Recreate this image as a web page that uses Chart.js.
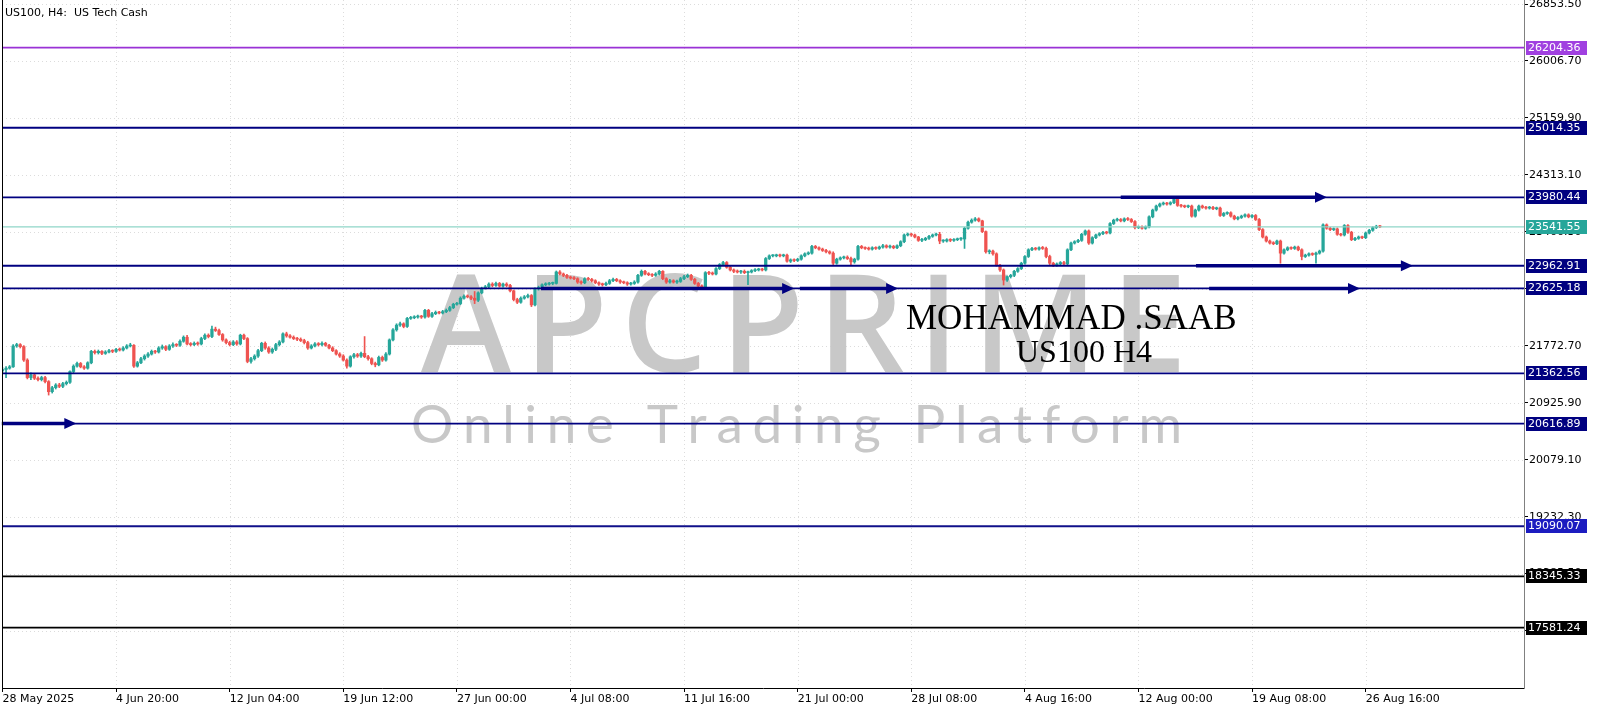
<!DOCTYPE html>
<html>
<head>
<meta charset="utf-8">
<script src="https://cdn.jsdelivr.net/npm/chart.js@4.4.1/dist/chart.umd.min.js"></script>
<style>
  html, body { margin: 0; padding: 0; background: #fff; }
  #wrap { width: 1600px; height: 711px; position: relative; }
</style>
</head>
<body>
<div id="wrap"><canvas id="chart"></canvas></div>
<script>
// US100 H4 candles, 28 May 2025 12:00 .. 27 Aug 2025 08:00
const opens = [
  21400,21420,21440,21460,21770,21790,21760,21560,21300,21340,
  21290,21270,21300,21240,21090,21150,21190,21170,21210,21230,
  21390,21470,21510,21460,21440,21520,21690,21670,21690,21660,
  21680,21700,21690,21720,21710,21740,21770,21780,21470,21520,
  21580,21620,21650,21690,21680,21740,21760,21720,21770,21790,
  21780,21840,21900,21800,21790,21810,21800,21880,21930,21910,
  22020,22000,21940,21860,21820,21790,21830,21800,21930,21880,
  21540,21580,21620,21700,21810,21740,21680,21720,21790,21830,
  21950,21920,21900,21880,21870,21850,21820,21740,21770,21800,
  21790,21810,21780,21740,21700,21650,21620,21560,21470,21610,
  21640,21620,21660,21610,21580,21510,21490,21600,21560,21650,
  21860,22010,22080,22100,22060,22180,22190,22200,22210,22200,
  22300,22210,22250,22270,22260,22280,22300,22340,22390,22400,
  22480,22510,22500,22480,22450,22560,22630,22650,22690,22670,
  22700,22660,22690,22670,22590,22460,22420,22480,22500,22520,
  22380,22620,22640,22680,22690,22700,22700,22870,22840,22820,
  22790,22780,22770,22720,22710,22770,22760,22740,22710,22690,
  22680,22700,22740,22760,22740,22720,22710,22690,22700,22720,
  22820,22880,22840,22830,22820,22840,22880,22770,22720,22740,
  22720,22730,22770,22800,22820,22760,22700,22660,22650,22860,
  22850,22840,22920,22980,23010,22940,22900,22880,22870,22880,
  22860,22870,22890,22900,22910,22900,23070,23110,23110,23120,
  23110,23120,23030,23050,23040,23060,23110,23140,23150,23250,
  23230,23210,23190,23170,23150,23000,23060,23080,23090,23070,
  23020,23060,23250,23230,23220,23210,23230,23220,23240,23260,
  23240,23250,23230,23260,23320,23420,23430,23420,23390,23340,
  23350,23370,23400,23420,23430,23330,23330,23350,23340,23350,
  23360,23360,23520,23610,23640,23660,23630,23470,23170,23180,
  23140,22970,22900,22750,22800,22820,22880,22920,23000,23100,
  23200,23220,23210,23230,23220,23100,23000,22970,22990,23010,
  22990,23200,23300,23320,23340,23430,23480,23300,23380,23420,
  23440,23460,23450,23590,23640,23650,23630,23660,23650,23620,
  23530,23540,23520,23540,23690,23790,23850,23880,23890,23880,
  23900,23950,23860,23850,23840,23850,23700,23790,23850,23830,
  23820,23830,23810,23820,23710,23740,23750,23700,23660,23680,
  23700,23720,23690,23710,23650,23500,23390,23330,23300,23290,
  23330,23150,23200,23230,23220,23240,23200,23100,23120,23140,
  23130,23150,23180,23570,23520,23500,23510,23430,23420,23560,
  23460,23350,23370,23390,23380,23450,23490,23530,23550
];
const highs = [
  21450,21465,21480,21790,21810,21805,21775,21580,21370,21360,
  21310,21320,21320,21255,21170,21210,21215,21230,21250,21400,
  21490,21530,21525,21480,21535,21705,21710,21710,21700,21700,
  21720,21715,21735,21740,21760,21790,21810,21790,21540,21600,
  21640,21670,21710,21705,21760,21785,21775,21790,21815,21805,
  21860,21920,21930,21820,21830,21830,21900,21950,21950,22065,
  22050,22020,21955,21875,21840,21850,21850,21945,21945,21895,
  21600,21640,21720,21825,21830,21760,21740,21810,21850,21965,
  21975,21940,21920,21900,21890,21870,21840,21790,21820,21820,
  21830,21825,21795,21760,21715,21670,21640,21580,21625,21660,
  21660,21680,21910,21630,21595,21530,21620,21620,21670,21875,
  22030,22100,22125,22115,22195,22210,22220,22230,22225,22315,
  22315,22270,22290,22285,22300,22320,22360,22405,22420,22500,
  22530,22530,22520,22580,22575,22645,22670,22710,22710,22720,
  22715,22705,22710,22685,22600,22480,22500,22520,22540,22535,
  22635,22660,22695,22710,22715,22720,22885,22890,22855,22835,
  22810,22800,22785,22740,22785,22790,22775,22755,22725,22705,
  22720,22760,22780,22775,22755,22735,22725,22715,22740,22835,
  22900,22895,22860,22845,22860,22895,22890,22785,22760,22755,
  22750,22790,22820,22840,22835,22775,22715,22680,22875,22880,
  22870,22935,22995,23030,23025,22955,22915,22900,22895,22900,
  22885,22905,22920,22925,22925,23085,23125,23130,23135,23135,
  23135,23135,23065,23065,23075,23125,23155,23170,23265,23265,
  23245,23225,23205,23185,23170,23075,23095,23105,23110,23090,
  23075,23265,23265,23245,23240,23245,23245,23255,23280,23275,
  23270,23265,23275,23335,23435,23450,23445,23435,23400,23370,
  23385,23415,23435,23450,23460,23350,23365,23365,23365,23375,
  23380,23535,23625,23660,23680,23675,23640,23480,23200,23195,
  23155,22985,22915,22810,22835,22895,22935,23015,23115,23215,
  23235,23235,23245,23250,23240,23120,23015,23005,23025,23030,
  23215,23315,23335,23355,23445,23495,23495,23395,23435,23455,
  23475,23475,23605,23655,23670,23665,23675,23680,23665,23635,
  23555,23555,23555,23705,23805,23865,23895,23910,23905,23915,
  23990,23965,23875,23865,23865,23865,23805,23865,23865,23845,
  23845,23845,23835,23835,23755,23765,23765,23715,23695,23715,
  23735,23735,23725,23725,23665,23515,23405,23345,23320,23345,
  23345,23215,23245,23245,23255,23255,23215,23135,23155,23155,
  23165,23195,23585,23585,23535,23525,23525,23445,23575,23575,
  23475,23385,23405,23405,23465,23505,23545,23565,23565
];
const lows = [
  21380,21300,21425,21450,21750,21740,21540,21280,21270,21270,
  21250,21250,21220,21040,21070,21130,21150,21150,21190,21215,
  21370,21455,21445,21420,21425,21505,21650,21650,21640,21645,
  21665,21670,21675,21695,21695,21725,21755,21450,21455,21505,
  21560,21600,21635,21660,21665,21720,21700,21705,21750,21760,
  21765,21825,21785,21770,21775,21780,21785,21865,21890,21895,
  21985,21925,21840,21800,21770,21775,21780,21785,21865,21520,
  21515,21560,21600,21685,21720,21660,21660,21700,21770,21815,
  21900,21885,21865,21850,21835,21800,21720,21725,21755,21770,
  21770,21765,21725,21685,21635,21600,21545,21440,21455,21590,
  21600,21600,21595,21560,21490,21460,21475,21540,21545,21635,
  21845,21990,22060,22040,22045,22165,22175,22185,22180,22185,
  22195,22195,22235,22245,22245,22265,22285,22325,22375,22385,
  22465,22485,22460,22400,22430,22545,22615,22635,22650,22655,
  22645,22645,22650,22575,22440,22400,22405,22465,22485,22355,
  22365,22600,22625,22665,22675,22680,22690,22825,22800,22775,
  22765,22755,22700,22690,22695,22745,22720,22695,22670,22660,
  22665,22685,22725,22725,22700,22695,22670,22675,22685,22705,
  22805,22825,22815,22800,22805,22825,22755,22700,22705,22705,
  22700,22715,22755,22785,22745,22685,22640,22630,22635,22830,
  22825,22825,22905,22965,22925,22885,22860,22855,22850,22845,
  22680,22855,22875,22885,22885,22885,23055,23095,23095,23095,
  23095,23015,23010,23025,23025,23045,23095,23125,23135,23215,
  23195,23175,23155,23135,22980,22985,23045,23065,23055,22980,
  23000,23045,23215,23205,23195,23195,23205,23205,23225,23225,
  23225,23215,23215,23245,23305,23405,23400,23375,23325,23320,
  23335,23355,23385,23405,23290,23310,23315,23320,23325,23335,
  23340,23220,23505,23595,23625,23615,23455,23150,23140,23120,
  22955,22880,22676,22730,22780,22800,22865,22905,22985,23085,
  23185,23195,23195,23205,23080,22980,22950,22955,22975,22970,
  22975,23185,23285,23305,23325,23415,23280,23285,23365,23405,
  23425,23435,23435,23575,23625,23615,23615,23635,23605,23510,
  23515,23505,23505,23525,23675,23775,23835,23865,23865,23865,
  23885,23845,23835,23825,23825,23685,23685,23775,23815,23805,
  23805,23795,23795,23695,23695,23725,23685,23645,23645,23665,
  23685,23675,23675,23635,23485,23375,23315,23285,23275,23275,
  23000,23135,23185,23205,23205,23185,23050,23085,23105,23115,
  23000,23135,23165,23505,23485,23485,23415,23405,23405,23445,
  23335,23335,23355,23365,23365,23435,23475,23515,23530
];
const closes = [
  21420,21440,21460,21770,21790,21760,21560,21300,21340,21290,
  21270,21300,21240,21090,21150,21190,21170,21210,21230,21390,
  21470,21510,21460,21440,21520,21690,21670,21690,21660,21680,
  21700,21690,21720,21710,21740,21770,21780,21470,21520,21580,
  21620,21650,21690,21680,21740,21760,21720,21770,21790,21780,
  21840,21900,21800,21790,21810,21800,21880,21930,21910,22020,
  22000,21940,21860,21820,21790,21830,21800,21930,21880,21540,
  21580,21620,21700,21810,21740,21680,21720,21790,21830,21950,
  21920,21900,21880,21870,21850,21820,21740,21770,21800,21790,
  21810,21780,21740,21700,21650,21620,21560,21470,21610,21640,
  21620,21660,21610,21580,21510,21490,21600,21560,21650,21860,
  22010,22080,22100,22060,22180,22190,22200,22210,22200,22300,
  22210,22250,22270,22260,22280,22300,22340,22390,22400,22480,
  22510,22500,22480,22450,22560,22630,22650,22690,22670,22700,
  22660,22690,22670,22590,22460,22420,22480,22500,22520,22380,
  22620,22640,22680,22690,22700,22700,22870,22840,22820,22790,
  22780,22770,22720,22710,22770,22760,22740,22710,22690,22680,
  22700,22740,22760,22740,22720,22710,22690,22700,22720,22820,
  22880,22840,22830,22820,22840,22880,22770,22720,22740,22720,
  22730,22770,22800,22820,22760,22700,22660,22650,22860,22850,
  22840,22920,22980,23010,22940,22900,22880,22870,22880,22860,
  22870,22890,22900,22910,22900,23070,23110,23110,23120,23110,
  23120,23030,23050,23040,23060,23110,23140,23150,23250,23230,
  23210,23190,23170,23150,23000,23060,23080,23090,23070,23020,
  23060,23250,23230,23220,23210,23230,23220,23240,23260,23240,
  23250,23230,23260,23320,23420,23430,23420,23390,23340,23350,
  23370,23400,23420,23430,23330,23330,23350,23340,23350,23360,
  23360,23520,23610,23640,23660,23630,23470,23170,23180,23140,
  22970,22900,22750,22800,22820,22880,22920,23000,23100,23200,
  23220,23210,23230,23220,23100,23000,22970,22990,23010,22990,
  23200,23300,23320,23340,23430,23480,23300,23380,23420,23440,
  23460,23450,23590,23640,23650,23630,23660,23650,23620,23530,
  23540,23520,23540,23690,23790,23850,23880,23890,23880,23900,
  23950,23860,23850,23840,23850,23700,23790,23850,23830,23820,
  23830,23810,23820,23710,23740,23750,23700,23660,23680,23700,
  23720,23690,23710,23650,23500,23390,23330,23300,23290,23330,
  23150,23200,23230,23220,23240,23200,23100,23120,23140,23130,
  23150,23180,23570,23520,23500,23510,23430,23420,23560,23460,
  23350,23370,23390,23380,23450,23490,23530,23550,23541.55
];

// time axis: bar index of each label and its text
const xTickIdx = [0, 32, 64, 96, 128, 160, 192, 224, 256, 288, 320, 352, 384];
const xTickLabels = ['28 May 2025', '4 Jun 20:00', '12 Jun 04:00', '19 Jun 12:00', '27 Jun 00:00',
  '4 Jul 08:00', '11 Jul 16:00', '21 Jul 00:00', '28 Jul 08:00', '4 Aug 16:00',
  '12 Aug 00:00', '19 Aug 08:00', '26 Aug 16:00'];
const yTicks = [26853.50, 26006.70, 25159.90, 24313.10, 23466.30, 22619.50, 21772.70,
  20925.90, 20079.10, 19232.30, 18385.50, 17538.70];

// horizontal levels
const levelValues = [26204.36, 25014.35, 23980.44, 23541.55, 22962.91, 22625.18, 21362.56, 20616.89, 19090.07, 18345.33, 17581.24];
const levelLine  = ['#9a32d6', '#000080', '#000080', '#8fd6c8', '#000080', '#000080', '#000080', '#000080', '#10108a', '#000000', '#000000'];
const levelBox   = ['#a040e0', '#000080', '#000080', '#26a69a', '#000080', '#000080', '#000080', '#000080', '#1c1cc0', '#000000', '#000000'];

// arrows: price level, from bar, to bar
const arrowLevel = [23980.44, 22962.91, 22625.18, 22625.18, 22625.18, 20616.89];
const arrowFrom  = [315, 336.2, 151.7, 224.6, 339.9, -0.2];
const arrowTo    = [373.1, 397.3, 223.0, 252.3, 382.4, 20.8];

const UP = '#26a69a', DOWN = '#ef5350';
const candleColor = (ctx) => closes[ctx.dataIndex] >= opens[ctx.dataIndex] ? UP : DOWN;

const bodies = closes.map((c, i) => ({ x: i, y: [opens[i], c] }));
const wicks = highs.map((h, i) => ({ x: i, y: [lows[i], h] }));

function spacedText(ctx, text, x0, x1, y) {
  const widths = [...text].map(ch => ctx.measureText(ch).width);
  const total = widths.reduce((a, b) => a + b, 0);
  const gap = (x1 - x0 - total) / (text.length - 1);
  let x = x0;
  [...text].forEach((ch, k) => { ctx.fillText(ch, x, y); x += widths[k] + gap; });
}

const decor = {
  id: 'decor',
  beforeDatasetsDraw(chart) {
    const { ctx, chartArea: a, scales: { x, y } } = chart;
    ctx.save();
    // dotted grid
    ctx.strokeStyle = '#dcdcdc';
    ctx.lineWidth = 1;
    ctx.setLineDash([1, 3]);
    xTickIdx.forEach(v => {
      const px = Math.round(x.getPixelForValue(v)) + 0.5;
      ctx.beginPath(); ctx.moveTo(px, a.top); ctx.lineTo(px, a.bottom); ctx.stroke();
    });
    yTicks.forEach(v => {
      const py = Math.round(y.getPixelForValue(v)) + 0.5;
      ctx.beginPath(); ctx.moveTo(a.left, py); ctx.lineTo(a.right, py); ctx.stroke();
    });
    ctx.setLineDash([]);
    // watermark
    ctx.fillStyle = '#c8c8c8';
    ctx.textBaseline = 'alphabetic';
    ctx.font = '600 136px "Open Sans", Lato, sans-serif';
    spacedText(ctx, 'APCPRIME', 421, 1187, 372);
    ctx.font = '400 53px Lato, "Open Sans", sans-serif';
    spacedText(ctx, 'Online Trading Platform', 411, 1182, 443);
    ctx.restore();
  },
  afterDatasetsDraw(chart) {
    const { ctx, chartArea: a, scales: { x, y } } = chart;
    ctx.save();
    levelValues.forEach((v, k) => {
      const py = y.getPixelForValue(v);
      ctx.strokeStyle = levelLine[k];
      ctx.lineWidth = k === 3 ? 1.2 : 1.8;
      ctx.beginPath(); ctx.moveTo(a.left, py); ctx.lineTo(a.right, py); ctx.stroke();
    });
    ctx.strokeStyle = '#000080';
    ctx.fillStyle = '#000080';
    arrowLevel.forEach((v, k) => {
      const py = y.getPixelForValue(v);
      const x0 = x.getPixelForValue(arrowFrom[k]);
      const x1 = x.getPixelForValue(arrowTo[k]);
      ctx.lineWidth = 3.6;
      ctx.beginPath(); ctx.moveTo(x0, py); ctx.lineTo(x1 - 10, py); ctx.stroke();
      ctx.beginPath();
      ctx.moveTo(x1, py); ctx.lineTo(x1 - 12, py - 5.5); ctx.lineTo(x1 - 12, py + 5.5);
      ctx.closePath(); ctx.fill();
    });
    // author stamp
    ctx.fillStyle = '#000';
    ctx.textBaseline = 'alphabetic';
    ctx.textAlign = 'left';
    ctx.font = '35px "Liberation Serif", "Times New Roman", serif';
    ctx.fillText('MOHAMMAD .SAAB', 906, 329);
    ctx.font = '32px "Liberation Serif", "Times New Roman", serif';
    ctx.fillText('US100 H4', 1016, 362);
    // frame left edge
    ctx.strokeStyle = '#000';
    ctx.lineWidth = 1;
    ctx.beginPath(); ctx.moveTo(a.left + 0.5, a.top); ctx.lineTo(a.left + 0.5, a.bottom); ctx.stroke();
    ctx.restore();
  },
  afterDraw(chart) {
    const { ctx, scales: { y } } = chart;
    ctx.save();
    ctx.font = '11px "DejaVu Sans", sans-serif';
    ctx.textBaseline = 'middle';
    ctx.textAlign = 'left';
    levelValues.forEach((v, k) => {
      const py = Math.round(y.getPixelForValue(v));
      ctx.fillStyle = levelBox[k];
      ctx.fillRect(1526, py - 7, 61, 14);
      ctx.fillStyle = '#fff';
      ctx.fillText(v.toFixed(2), 1528, py + 0.5);
    });
    ctx.fillStyle = '#000';
    ctx.fillText('US100, H4:  US Tech Cash', 5, 13);
    ctx.restore();
  }
};

Chart.defaults.font.family = '"DejaVu Sans", sans-serif';
Chart.defaults.font.size = 11;
Chart.defaults.color = '#000';

new Chart(document.getElementById('chart'), {
  type: 'bar',
  data: {
    datasets: [
      { data: wicks, backgroundColor: candleColor, barThickness: 1, grouped: false, order: 2 },
      { data: bodies, backgroundColor: candleColor, barThickness: 2.6, minBarLength: 1, grouped: false, order: 1 }
    ]
  },
  options: {
    responsive: true,
    maintainAspectRatio: false,
    animation: false,
    layout: { padding: { left: 2, right: 0, top: 0, bottom: 0 } },
    plugins: { legend: { display: false }, tooltip: { enabled: false } },
    scales: {
      x: {
        type: 'linear',
        offset: false,
        min: -0.14,
        max: 428.6,
        afterBuildTicks: (s) => { s.ticks = xTickIdx.map(v => ({ value: v })); },
        afterFit: (s) => { s.height = 23; s.paddingLeft = 0; s.paddingRight = 0; },
        ticks: {
          autoSkip: false, maxRotation: 0, minRotation: 0, align: 'start', padding: 1,
          callback: (v, i) => xTickLabels[i]
        },
        grid: { drawOnChartArea: false, offset: false, tickLength: 4, color: '#000' },
        border: { color: '#000' }
      },
      y: {
        position: 'right',
        min: 16685,
        max: 26913.5,
        afterBuildTicks: (s) => { s.ticks = yTicks.map(v => ({ value: v })); },
        afterFit: (s) => { s.width = 76; s.paddingTop = 0; s.paddingBottom = 0; },
        ticks: { autoSkip: false, padding: 1, callback: (v) => Number(v).toFixed(2) },
        grid: { drawOnChartArea: false, tickLength: 4, color: '#000' },
        border: { color: '#808080' }
      }
    }
  },
  plugins: [decor]
});
</script>
</body>
</html>
